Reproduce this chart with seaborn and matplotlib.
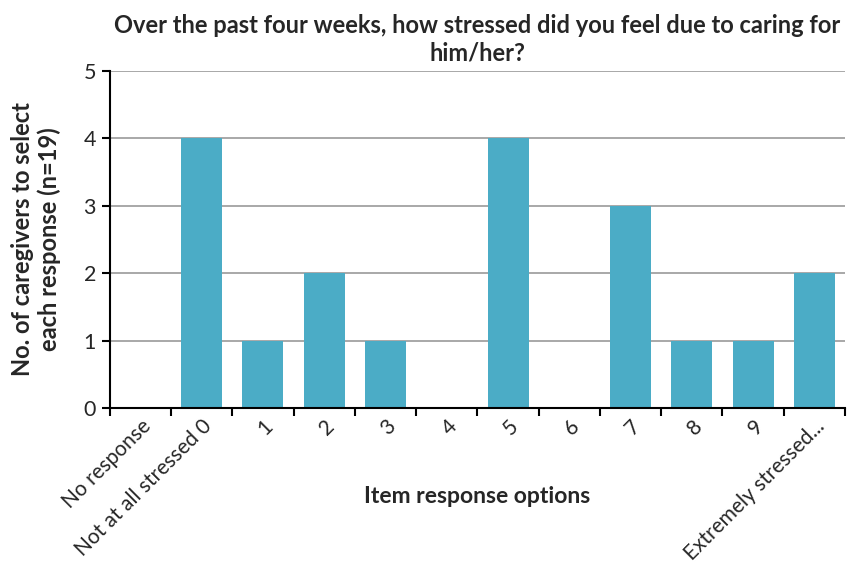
import matplotlib
matplotlib.use("Agg")
import matplotlib.pyplot as plt
import numpy as np
import pandas as pd
import seaborn as sns

# Data
categories = ["No response", "Not at all stressed 0", "1", "2", "3", "4", "5",
              "6", "7", "8", "9", "Extremely stressed..."]
counts = [0, 4, 1, 2, 1, 0, 4, 0, 3, 1, 1, 2]

df = pd.DataFrame({"option": categories, "count": counts})

sns.set_style("white")
plt.rcParams["font.family"] = ["Lato", "DejaVu Sans"]

fig = plt.figure(figsize=(8.51, 5.69), dpi=100)
ax = fig.add_axes([0.129, 0.283, 0.864, 0.592])

sns.barplot(data=df, x="option", y="count", color="#4BACC6", saturation=1,
            width=0.67, linewidth=0, edgecolor="none", ax=ax, zorder=3)

ax.set_ylim(0, 5)
ax.set_xlim(-0.5, len(categories) - 0.5)
ax.set_yticks(range(0, 6))
ax.yaxis.grid(True, color="#999999", linewidth=1.2, zorder=0)
ax.set_axisbelow(True)

for side in ["top", "right"]:
    ax.spines[side].set_visible(False)
for side in ["left", "bottom"]:
    ax.spines[side].set_color("black")
    ax.spines[side].set_linewidth(1.5)
    ax.spines[side].set_zorder(4)

# category labels centered, tick marks between categories
ax.set_xticks(range(len(categories)))
ax.set_xticklabels(categories, rotation=45, ha="right", rotation_mode="anchor",
                   fontsize=15)
ax.set_xticks(np.arange(-0.5, len(categories)), minor=True)
ax.tick_params(axis="x", which="major", length=0, pad=6)
ax.tick_params(axis="x", which="minor", length=6, width=1.5, color="black",
               direction="out", bottom=True)
ax.tick_params(axis="y", length=6, width=1.5, color="black", direction="out",
               left=True, labelsize=15.5, pad=4)

ax.set_xlabel("Item response options", fontsize=16.5, fontweight="bold")
ax.xaxis.set_label_coords(0.5, -0.264)
ax.xaxis.label.set_verticalalignment("center")
ax.set_ylabel("No. of caregivers to select\neach response (n=19)", fontsize=17,
              fontweight="bold", linespacing=1.15)
ax.yaxis.set_label_coords(-0.1, 0.5)
ax.yaxis.label.set_verticalalignment("center")
ax.set_title("Over the past four weeks, how stressed did you feel due to caring for\nhim/her?",
             fontsize=17, fontweight="bold", pad=8, linespacing=1.2)

fig.savefig("out.png", dpi=100)
